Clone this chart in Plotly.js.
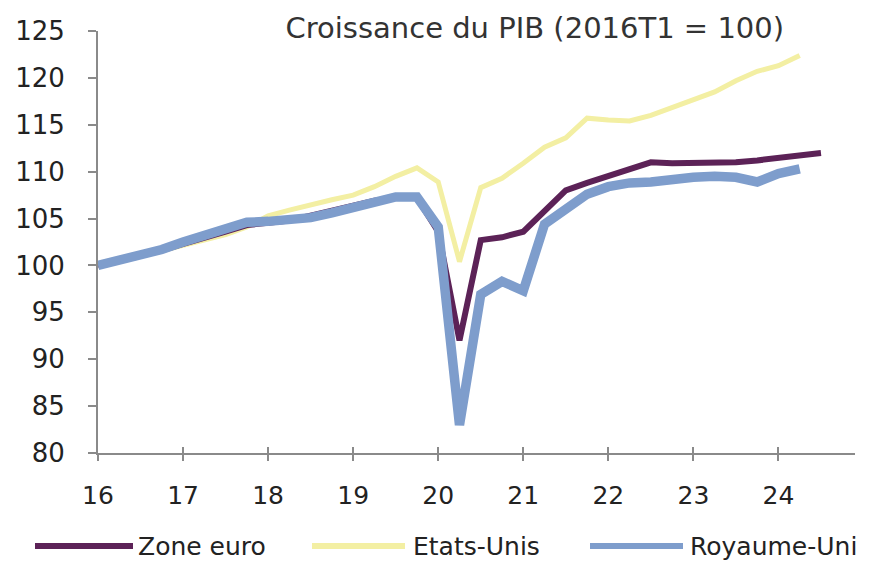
<!DOCTYPE html>
<html>
<head>
<meta charset="utf-8">
<script src="https://cdn.plot.ly/plotly-3.0.1.min.js"></script>
<style>html,body{margin:0;padding:0;background:#fff;}#chart{width:896px;height:562px;}</style>
</head>
<body>
<div id="chart"></div>
<script>
// Quarters as decimal years (16 = 2016T1)
const quartersEuro = [16,16.25,16.5,16.75,17,17.25,17.5,17.75,18,18.25,18.5,18.75,19,19.25,19.5,19.75,20,20.25,20.5,20.75,21,21.25,21.5,21.75,22,22.25,22.5,22.75,23,23.25,23.5,23.75,24,24.25,24.5];
const quartersUS = quartersEuro.slice(0, 34);
const quartersUK = quartersEuro.slice(0, 34);

const zoneEuro = [100,100.5,101.0,101.6,102.3,102.9,103.6,104.3,104.6,104.8,105.3,105.8,106.4,106.9,107.2,107.2,103.6,92.0,102.7,103.0,103.6,105.9,108.0,108.8,109.5,110.3,111.0,110.9,110.9,111.0,111.0,111.2,111.5,111.8,112.0];
const etatsUnis = [100,100.6,101.0,101.6,102.2,102.7,103.3,104.1,105.3,105.9,106.5,107.0,107.5,108.4,109.5,110.4,108.9,100.4,108.3,109.3,110.9,112.6,113.6,115.7,115.5,115.4,116.0,116.8,117.6,118.5,119.7,120.7,121.3,122.4];
const royaumeUni = [100,100.5,101.1,101.7,102.5,103.2,103.9,104.6,104.7,104.8,105.1,105.6,106.2,106.7,107.3,107.3,104.1,83.0,96.9,98.3,97.3,104.4,106.1,107.6,108.4,108.8,108.9,109.2,109.4,109.5,109.4,108.9,109.8,110.3];

const xTicks = [16,17,18,19,20,21,22,23,24];
const xTickLabels = ['16','17','18','19','20','21','22','23','24'];
const yTicks = [80,85,90,95,100,105,110,115,120,125];

const seriesNames = ['Zone euro','Etats-Unis','Royaume-Uni'];
const colEuro = '#5c2257', colUS = '#f3efa3', colUK = '#7e9dcc';

const FONT = 'DejaVu Sans, sans-serif';
const W = 896, H = 562;
const M = {l: 98, r: 41, t: 31, b: 109};
const pw = W - M.l - M.r, ph = H - M.t - M.b;
const px = x => (x - M.l) / pw;
const py = y => (H - M.b - y) / ph;

const traces = [
  {x: quartersUS, y: etatsUnis, name: seriesNames[1], type: 'scatter', mode: 'lines',
   line: {color: colUS, width: 5}, showlegend: false},
  {x: quartersEuro, y: zoneEuro, name: seriesNames[0], type: 'scatter', mode: 'lines',
   line: {color: colEuro, width: 6}, showlegend: false},
  {x: quartersUK, y: royaumeUni, name: seriesNames[2], type: 'scatter', mode: 'lines',
   line: {color: colUK, width: 9.5}, showlegend: false}
];

// custom legend
const legendY = 546;
const legendItems = [
  {name: seriesNames[0], color: colEuro, x0: 35, x1: 133, tx: 136, w: 6},
  {name: seriesNames[1], color: colUS, x0: 312, x1: 405, tx: 411, w: 6},
  {name: seriesNames[2], color: colUK, x0: 590, x1: 683, tx: 688, w: 6}
];
const shapes = legendItems.map(it => ({
  type: 'line', xref: 'paper', yref: 'paper',
  x0: px(it.x0), x1: px(it.x1), y0: py(legendY), y1: py(legendY),
  line: {color: it.color, width: it.w}
}));
const annotations = legendItems.map(it => ({
  xref: 'paper', yref: 'paper', x: px(it.tx), y: py(legendY),
  xanchor: 'left', yanchor: 'middle', showarrow: false, text: it.name,
  font: {family: FONT, size: 25, color: '#222'}
}));

const layout = {
  width: W, height: H,
  margin: M,
  paper_bgcolor: '#fff', plot_bgcolor: '#fff',
  showlegend: false,
  title: {text: 'Croissance du PIB (2016T1 = 100)', x: 517 / W, xanchor: 'center', xref: 'paper',
          y: 1 - 28 / H, yanchor: 'middle', yref: 'container',
          font: {family: FONT, size: 29, color: '#333'}},
  xaxis: {range: [16, 24.9], tickvals: xTicks, ticktext: xTickLabels,
          showgrid: false, zeroline: false, showline: true, linecolor: '#8a8a8a', linewidth: 2,
          ticks: 'outside', ticklen: 6, tickwidth: 2, tickcolor: '#8a8a8a',
          ticklabelstandoff: 13,
          tickfont: {family: FONT, size: 25, color: '#222'}},
  xaxis2: {range: [16, 24.9], overlaying: 'x', anchor: 'y', side: 'bottom', tickvals: xTicks,
           showticklabels: false, showgrid: false, zeroline: false, showline: false,
           ticks: 'inside', ticklen: 6, tickwidth: 2, tickcolor: '#8a8a8a'},
  yaxis: {range: [80, 125], tickvals: yTicks,
          showgrid: false, zeroline: false, showline: true, linecolor: '#8a8a8a', linewidth: 2,
          ticks: 'outside', ticklen: 8, tickwidth: 2, tickcolor: '#8a8a8a',
          ticklabelstandoff: 18,
          tickfont: {family: FONT, size: 26, color: '#222'}},
  shapes: shapes,
  annotations: annotations
};

traces.push({x: [16], y: [null], xaxis: 'x2', type: 'scatter', mode: 'lines', showlegend: false, hoverinfo: 'skip'});

Plotly.newPlot('chart', traces, layout, {staticPlot: true, displayModeBar: false});
</script>
</body>
</html>
